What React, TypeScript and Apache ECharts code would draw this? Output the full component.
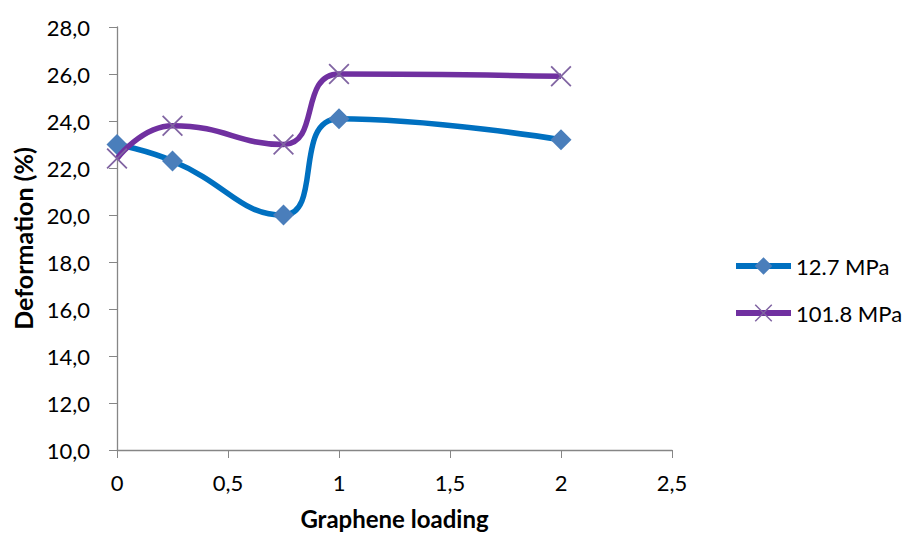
import React, { useEffect, useRef } from "react";
import * as echarts from "echarts";

const xValues = [0, 0.25, 0.75, 1, 2];
const series127 = [23.0, 22.3, 20.0, 24.1, 23.2];
const series1018 = [22.4, 23.8, 23.0, 26.0, 25.9];
const seriesNames = ["12.7 MPa", "101.8 MPa"];

const FONT = "Lato, 'Open Sans', sans-serif";
const X_PATH = "path://M0,1.2L1.2,0L20,18.8L18.8,20ZM18.8,0L20,1.2L1.2,20L0,18.8Z";

export default function App() {
  const ref = useRef<HTMLDivElement>(null);
  useEffect(() => {
    if (!ref.current) return;
    const chart = echarts.init(ref.current, null, { renderer: "svg" });
    const fmt1 = (v: number) => v.toFixed(1).replace(".", ",");
    const fmtX = (v: number) => String(v).replace(".", ",");
    chart.setOption({
      animation: false,
      backgroundColor: "#fff",
      textStyle: { fontFamily: FONT },
      grid: { left: 117, right: 233, top: 27, bottom: 85, containLabel: false, outerBoundsMode: "none" },
      legend: {
        orient: "vertical",
        left: 728,
        top: 250,
        itemWidth: 55,
        itemHeight: 22,
        itemGap: 25,
        lineStyle: { width: 6 },
        textStyle: { fontSize: 22, color: "#000", fontFamily: FONT },
        data: seriesNames,
      },
      xAxis: {
        type: "value",
        min: 0,
        max: 2.5,
        interval: 0.5,
        name: "Graphene loading",
        nameLocation: "middle",
        nameGap: 56,
        nameTextStyle: { fontSize: 24, fontWeight: "bold", color: "#000", fontFamily: FONT },
        axisLine: { lineStyle: { color: "#868686", width: 1.3 } },
        axisTick: { show: true, length: 8, lineStyle: { color: "#868686" } },
        axisLabel: { fontSize: 22, color: "#000", margin: 21, formatter: fmtX, fontFamily: FONT },
        splitLine: { show: false },
      },
      yAxis: {
        type: "value",
        min: 10,
        max: 28,
        interval: 2,
        name: "Deformation (%)",
        nameLocation: "middle",
        nameGap: 82,
        nameRotate: 90,
        nameTextStyle: { fontSize: 25, fontWeight: "bold", color: "#000", fontFamily: FONT },
        axisLine: { show: true, lineStyle: { color: "#868686", width: 1.3 } },
        axisTick: { show: true, length: 8, lineStyle: { color: "#868686" } },
        axisLabel: { fontSize: 22, color: "#000", margin: 27, formatter: fmt1, fontFamily: FONT },
        splitLine: { show: false },
      },
      series: [
        {
          name: seriesNames[0],
          type: "line",
          data: xValues.map((x, i) => [x, series127[i]]),
          smooth: 0.5,
          symbol: "diamond",
          symbolSize: 21,
          lineStyle: { color: "#0070C0", width: 5.5 },
          itemStyle: { color: "#4A7EBB" },
          z: 2,
        },
        {
          name: seriesNames[1],
          type: "line",
          data: xValues.map((x, i) => [x, series1018[i]]),
          smooth: 0.5,
          symbol: X_PATH,
          symbolSize: 21,
          lineStyle: { color: "#7030A0", width: 5.5 },
          itemStyle: { color: "#8064A2" },
          z: 3,
        },
      ],
    });
    return () => chart.dispose();
  }, []);
  return <div ref={ref} style={{ width: 905, height: 535, position: "absolute", left: 0, top: 0 }} />;
}
